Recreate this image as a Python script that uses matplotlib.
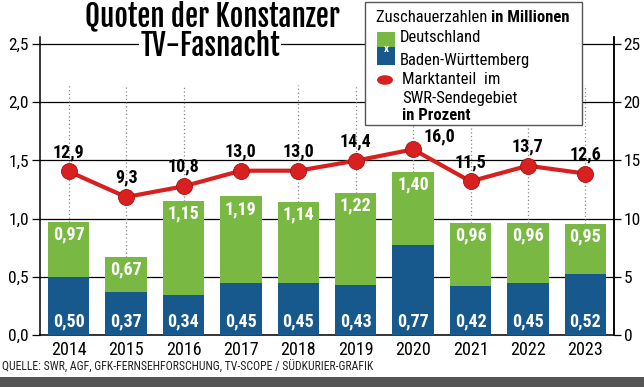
import matplotlib
matplotlib.use("Agg")
import matplotlib.pyplot as plt
from matplotlib.patches import Rectangle, Circle
from matplotlib.text import Annotation
import numpy as np

years = ["2014", "2015", "2016", "2017", "2018", "2019", "2020", "2021", "2022", "2023"]
germany = [0.97, 0.67, 1.15, 1.19, 1.14, 1.22, 1.40, 0.96, 0.96, 0.95]
bw = [0.50, 0.37, 0.34, 0.45, 0.45, 0.43, 0.77, 0.42, 0.45, 0.52]
share = [12.9, 9.3, 10.8, 13.0, 13.0, 14.4, 16.0, 11.5, 13.7, 12.6]
left_ticks = [0, 0.5, 1.0, 1.5, 2.0, 2.5]
right_ticks = [0, 5, 10, 15, 20, 25]

plt.rcParams["font.family"] = ["Roboto Condensed", "Liberation Sans Narrow", "DejaVu Sans"]
TITLE_FONT = ["Fjalla One", "Antonio", "Roboto Condensed", "DejaVu Sans"]

GREEN = "#7ab844"
BLUE = "#17598c"
RED = "#d7201f"

W, H = 644, 387
def px(x, y):
    return (x / W, 1 - y / H)

def de(v, d):
    return f"{v:.{d}f}".replace(".", ",")

fig = plt.figure(figsize=(W / 100, H / 100), dpi=100)
ax = fig.add_axes([40 / W, 1 - 335 / H, 574 / W, 298 / H])
x = np.arange(len(years))

ax.set_xlim(-0.5, 9.5)
ax.set_ylim(0, 2.56)
ax.set_yticks(left_ticks)
ax.set_yticklabels([de(v, 1) for v in left_ticks])
ax.yaxis.grid(True, color="black", lw=0.9)
ax.set_axisbelow(True)
ax.tick_params(axis="y", direction="out", length=6, width=0.9, labelsize=12.5, pad=2)
ax.set_xticks(x)
ax.set_xticklabels(years)
ax.tick_params(axis="x", length=0, labelsize=13, pad=4)
ax.spines["top"].set_visible(False)
for s in ["left", "right", "bottom"]:
    ax.spines[s].set_linewidth(1.1)

ax.bar(x, germany, width=0.72, color=GREEN, zorder=2)
ax.bar(x, bw, width=0.72, color=BLUE, zorder=3)
dotted = [i for i in x if years[i] != "2017"]
ax.vlines(dotted, [germany[i] for i in dotted], 2.15, colors="#888888",
          linestyles=(0, (1, 2)), lw=0.9, zorder=1)

for i in x:
    ax.annotate(de(germany[i], 2), (i, germany[i]), xytext=(0, -9), textcoords="offset points",
                ha="center", va="center", color="white", fontweight="bold", fontsize=13, zorder=5)
    ax.annotate(de(bw[i], 2), (i, 0), xytext=(0, 9.5), textcoords="offset points",
                ha="center", va="center", color="white", fontweight="bold", fontsize=13, zorder=5)

ax2 = ax.twinx()
ax2.set_ylim(0, 25.6)
ax2.set_yticks(right_ticks)
ax2.tick_params(axis="y", direction="out", length=5, width=0.9, labelsize=12.5, pad=2)
for s in ["top", "left", "bottom"]:
    ax2.spines[s].set_visible(False)
ax2.spines["right"].set_linewidth(1.1)

# the share line sits on its own (compressed) scale, as in the print graphic
ax3 = ax.twinx()
ax3.set_ylim(-10.1, 31.8)
ax3.axis("off")
ax3.plot(x, share, color=RED, lw=3, marker="o", ms=11.5, mfc=RED, mec="#a81212", mew=0.6, zorder=4)
for i in x:
    off = (19, 9) if years[i] == "2020" else (0, 14)
    ax3.annotate(de(share[i], 1), (i, share[i]), xytext=off, textcoords="offset points",
                 ha="center", va="center", fontweight="bold", fontsize=13)

# title
bb = dict(fc="white", ec="none", pad=1)
fig.text(*px(212, 16), "Quoten der Konstanzer", ha="center", va="center", family=TITLE_FONT,
         fontsize=21, fontweight="bold", bbox=bb, zorder=10)
fig.text(*px(210, 46), "TV-Fasnacht", ha="center", va="center", family=TITLE_FONT,
         fontsize=21, fontweight="bold", bbox=bb, zorder=10)

# legend box
fig.add_artist(Rectangle(px(365, 125), 217 / W, 123 / H, transform=fig.transFigure,
                         fc="white", ec="#555555", lw=1, zorder=10))
t1 = fig.text(*px(376, 18), "Zuschauerzahlen ", ha="left", va="center", fontsize=12, zorder=11)
fig.add_artist(Annotation("in Millionen", xy=(1, 0.5), xycoords=t1, ha="left", va="center",
                          fontsize=12, fontweight="bold", zorder=11))
fig.add_artist(Rectangle(px(377, 47), 18 / W, 15 / H, transform=fig.transFigure, fc=GREEN, ec="none", zorder=11))
fig.add_artist(Rectangle(px(377, 65), 18 / W, 18 / H, transform=fig.transFigure, fc=BLUE, ec="none", zorder=11))
fig.text(*px(386, 49), "x", ha="center", va="center", color="white", fontsize=8, fontweight="bold", zorder=12)
fig.text(*px(400, 38), "Deutschland", ha="left", va="center", fontsize=12, zorder=11)
fig.text(*px(400, 60), "Baden-Württemberg", ha="left", va="center", fontsize=12, zorder=11)
fig.add_artist(Circle(px(385, 80), 8 / W, transform=fig.transFigure, fc=RED, ec="none", zorder=11))
fig.text(*px(402, 80), "Marktanteil  im", ha="left", va="center", fontsize=12, zorder=11)
fig.text(*px(402, 98), "SWR-Sendegebiet", ha="left", va="center", fontsize=12, zorder=11)
fig.text(*px(402, 116), "in Prozent", ha="left", va="center", fontsize=12, fontweight="bold", zorder=11)

# footer
fig.text(*px(2, 367), "QUELLE: SWR, AGF, GFK-FERNSEHFORSCHUNG, TV-SCOPE / SÜDKURIER-GRAFIK",
         ha="left", va="center", fontsize=8.5, color="#222222")
fig.add_artist(Rectangle((0, 0), 1, 10 / H, transform=fig.transFigure, fc="#555555", ec="none"))

fig.savefig("out.png", dpi=100)
